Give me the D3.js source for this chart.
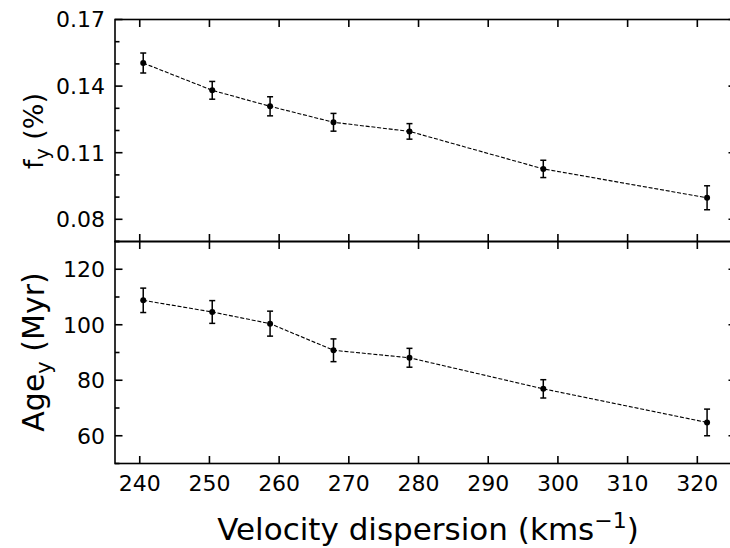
<!DOCTYPE html>
<html>
<head>
<meta charset="UTF-8">
<title>Velocity dispersion</title>
<script src="https://d3js.org/d3.v7.min.js"></script>
<style>
  body { margin: 0; background: #fff; }
  svg text { font-family: "DejaVu Sans", sans-serif; fill: #000; }
</style>
</head>
<body>
<svg id="chart" width="730" height="548"></svg>
<script>
// data
const sigma = [240.5, 250.4, 258.7, 267.8, 278.7, 297.9, 321.4];
const fy = [0.1504, 0.1381, 0.1309, 0.1237, 0.1196, 0.1027, 0.0897];
const fyErr = [0.0045, 0.0040, 0.0043, 0.0040, 0.0035, 0.0039, 0.0054];
const age = [108.8, 104.6, 100.4, 90.8, 88.1, 76.9, 64.8];
const ageErr = [4.4, 4.1, 4.5, 4.1, 3.4, 3.3, 4.8];
const xTicks = [240, 250, 260, 270, 280, 290, 300, 310, 320];
const fyTicks = [0.08, 0.11, 0.14, 0.17];
const fyMinor = [0.07, 0.09, 0.10, 0.12, 0.13, 0.15, 0.16];
const ageTicks = [60, 80, 100, 120];
const ageMinor = [50, 70, 90, 110, 130];

const pLeft = 115, pRight = 736, pTop = 19.5, pMid = 241.5, pBottom = 463.5;
const svg = d3.select("#chart");

const x = d3.scaleLinear().domain([236.45, 325.55]).range([pLeft, pRight]);
const yTop = d3.scaleLinear().domain([0.07, 0.17]).range([pMid, pTop]);
const yBot = d3.scaleLinear().domain([50, 130]).range([pBottom, pMid]);

function panel(y, vals, errs, major, minor, fmt, y0, y1) {
  const g = svg.append("g");
  const ticks = g.append("g");
  // ticks, all pointing inward
  const tk = (list, len) => {
    list.forEach(t => {
      ticks.append("line").attr("x1", pLeft).attr("x2", pLeft + len)
        .attr("y1", y(t)).attr("y2", y(t));
      ticks.append("line").attr("x1", pRight).attr("x2", pRight - len)
        .attr("y1", y(t)).attr("y2", y(t));
    });
  };
  tk(major, 7.5);
  tk(minor, 4.5);
  xTicks.forEach(t => {
    ticks.append("line").attr("x1", x(t)).attr("x2", x(t)).attr("y1", y0).attr("y2", y0 + 7.5);
    ticks.append("line").attr("x1", x(t)).attr("x2", x(t)).attr("y1", y1).attr("y2", y1 - 7.5);
  });
  ticks.selectAll("line").attr("stroke", "#000").attr("stroke-width", 1.6);

  g.selectAll("text.tl").data(major).join("text")
    .attr("class", "tl")
    .attr("x", pLeft - 10).attr("y", d => y(d))
    .attr("dy", "0.36em")
    .attr("text-anchor", "end")
    .style("font-size", "22px")
    .text(fmt);

  // dashed connecting line
  const pts = sigma.map((s, i) => [s, vals[i]]);
  g.append("path")
    .attr("d", d3.line().x(d => x(d[0])).y(d => y(d[1]))(pts))
    .attr("fill", "none").attr("stroke", "#000")
    .attr("stroke-width", 1.1).attr("stroke-dasharray", "4,1.8");

  // error bars
  const eb = g.append("g");
  pts.forEach((p, i) => {
    const cx = x(p[0]);
    const lo = y(p[1] - errs[i]), hi = y(p[1] + errs[i]);
    eb.append("line").attr("x1", cx).attr("x2", cx).attr("y1", lo).attr("y2", hi);
    eb.append("line").attr("x1", cx - 3).attr("x2", cx + 3).attr("y1", lo).attr("y2", lo);
    eb.append("line").attr("x1", cx - 3).attr("x2", cx + 3).attr("y1", hi).attr("y2", hi);
  });
  eb.selectAll("line").attr("stroke", "#000").attr("stroke-width", 1.5);

  g.selectAll("circle").data(pts).join("circle")
    .attr("cx", d => x(d[0])).attr("cy", d => y(d[1]))
    .attr("r", 3).attr("fill", "#000");

  g.append("rect").attr("x", pLeft).attr("y", y0)
    .attr("width", pRight - pLeft).attr("height", y1 - y0)
    .attr("fill", "none").attr("stroke", "#000").attr("stroke-width", 1.6);
}

panel(yTop, fy, fyErr, fyTicks, fyMinor, d3.format(".2f"), pTop, pMid);
panel(yBot, age, ageErr, ageTicks, ageMinor, d3.format("d"), pMid, pBottom);

// x tick labels
svg.selectAll("text.xl").data(xTicks).join("text")
  .attr("class", "xl")
  .attr("x", d => x(d)).attr("y", pBottom + 27)
  .attr("text-anchor", "middle")
  .style("font-size", "22px")
  .text(d => d);

// axis titles
const xt = svg.append("text")
  .attr("x", 428).attr("y", 540)
  .attr("text-anchor", "middle")
  .style("font-size", "31px");
xt.append("tspan").text("Velocity dispersion (kms");
xt.append("tspan").attr("dy", -12).style("font-size", "22px").text("\u22121");
xt.append("tspan").attr("dy", 12).text(")");

const fyT = svg.append("text")
  .attr("transform", "translate(43,131) rotate(-90)")
  .attr("text-anchor", "middle")
  .style("font-size", "27px");
fyT.append("tspan").text("f");
fyT.append("tspan").attr("dy", 6).style("font-size", "19px").text("y");
fyT.append("tspan").attr("dy", -6).text(" (%)");

const ageT = svg.append("text")
  .attr("transform", "translate(44,352) rotate(-90)")
  .attr("text-anchor", "middle")
  .style("font-size", "30px");
ageT.append("tspan").text("Age");
ageT.append("tspan").attr("dy", 7).style("font-size", "21px").text("y");
ageT.append("tspan").attr("dy", -7).text(" (Myr)");
</script>
</body>
</html>
